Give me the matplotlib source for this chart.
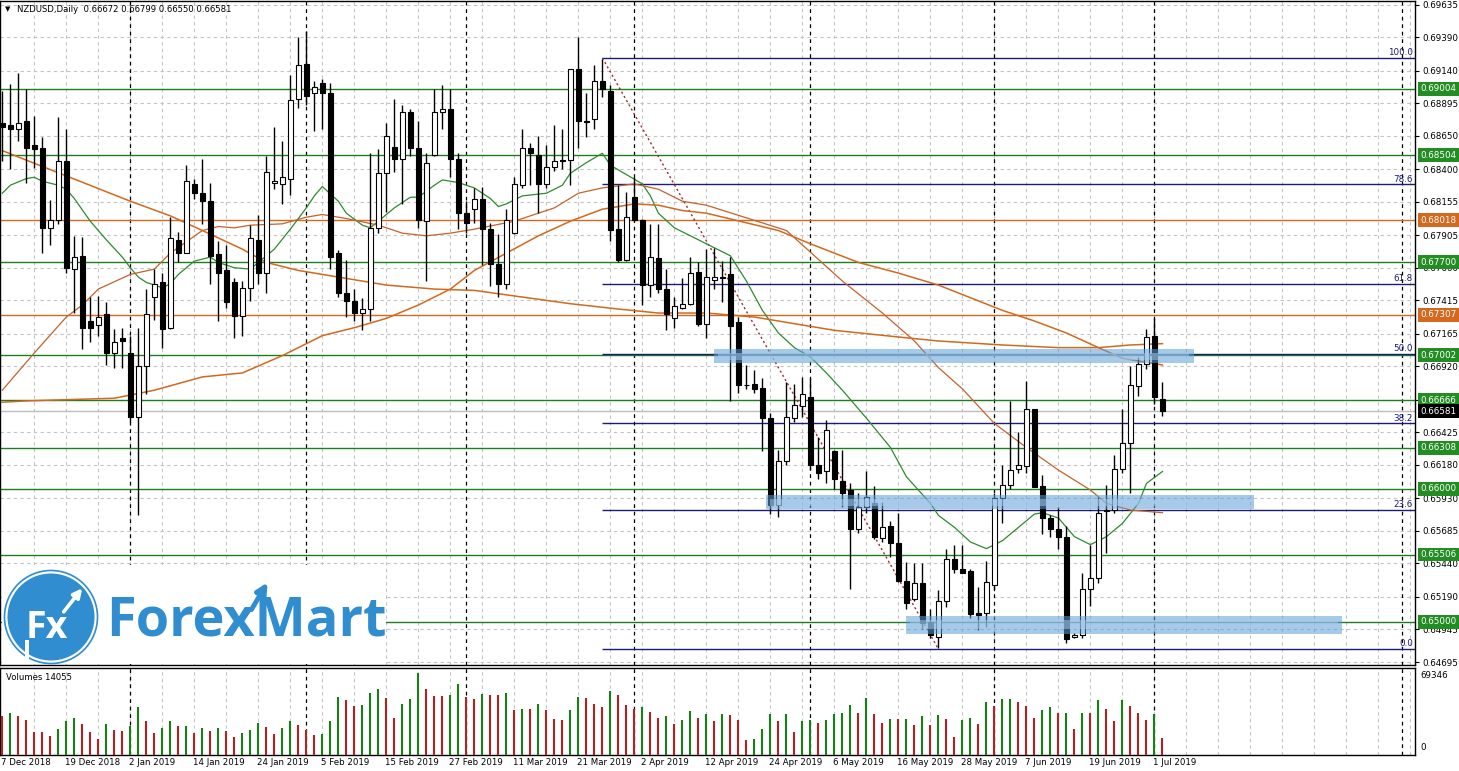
import matplotlib.pyplot as plt
from matplotlib.patches import Rectangle, Circle
from matplotlib.transforms import blended_transform_factory

# ---- NZDUSD daily candles, prices in pips (1 pip = 0.0001) ----
opens = [6875, 6873, 6870, 6876, 6858, 6856, 6796, 6802, 6846, 6765,
         6775, 6726, 6723, 6731, 6702, 6713, 6702, 6654, 6692, 6744,
         6755, 6721, 6787, 6777, 6829, 6822, 6816, 6776, 6764, 6755,
         6730, 6751, 6787, 6762, 6830, 6829, 6833, 6893, 6919, 6897,
         6905, 6897, 6777, 6747, 6741, 6732, 6735, 6796, 6837, 6857,
         6848, 6883, 6856, 6801, 6851, 6883, 6885, 6848, 6807, 6810,
         6818, 6795, 6769, 6754, 6792, 6828, 6856, 6851, 6829, 6842,
         6847, 6847, 6915, 6876, 6878, 6906, 6899, 6795, 6772, 6819,
         6802, 6753, 6773, 6750, 6728, 6736, 6739, 6763, 6724, 6757,
         6759, 6761, 6725, 6678, 6679, 6676, 6653, 6588, 6621, 6653,
         6662, 6669, 6618, 6613, 6628, 6606, 6599, 6570, 6586, 6589,
         6563, 6572, 6559, 6531, 6517, 6529, 6500, 6489, 6516, 6547,
         6540, 6538, 6507, 6507, 6528, 6593, 6603, 6615, 6617, 6660,
         6602, 6578, 6570, 6564, 6489, 6490, 6525, 6533, 6583, 6584,
         6615, 6634, 6677, 6694, 6715, 6667.2]
highs = [6899, 6904, 6912, 6900, 6880, 6864, 6817, 6879, 6870, 6790,
         6789, 6744, 6745, 6740, 6720, 6721, 6715, 6721, 6750, 6765,
         6762, 6804, 6793, 6843, 6833, 6848, 6830, 6786, 6783, 6758,
         6756, 6798, 6806, 6850, 6872, 6861, 6911, 6939, 6944, 6906,
         6908, 6905, 6779, 6772, 6750, 6743, 6852, 6855, 6875, 6893,
         6888, 6885, 6876, 6852, 6900, 6903, 6900, 6852, 6816, 6826,
         6827, 6800, 6791, 6810, 6834, 6870, 6860, 6865, 6858, 6873,
         6870, 6915, 6939, 6897, 6918, 6923, 6903, 6828, 6823, 6834,
         6803, 6799, 6799, 6765, 6744, 6758, 6774, 6770, 6780, 6781,
         6771, 6774, 6729, 6693, 6689, 6683, 6657, 6629, 6680, 6679,
         6684, 6683, 6639, 6652, 6629, 6629, 6604, 6597, 6613, 6602,
         6590, 6576, 6582, 6545, 6544, 6544, 6510, 6524, 6555, 6558,
         6558, 6540, 6526, 6546, 6597, 6618, 6666, 6643, 6681, 6660,
         6610, 6580, 6586, 6572, 6492, 6537, 6558, 6594, 6603, 6625,
         6660, 6692, 6699, 6720, 6728, 6679.9]
lows = [6846, 6840, 6861, 6830, 6841, 6777, 6783, 6799, 6762, 6732,
        6705, 6710, 6715, 6693, 6691, 6691, 6650, 6580, 6671, 6727,
        6706, 6720, 6770, 6777, 6818, 6799, 6754, 6726, 6736, 6713,
        6715, 6741, 6754, 6747, 6825, 6814, 6821, 6886, 6888, 6869,
        6870, 6765, 6744, 6729, 6726, 6719, 6726, 6792, 6808, 6838,
        6814, 6850, 6796, 6756, 6850, 6870, 6834, 6795, 6792, 6800,
        6768, 6752, 6744, 6750, 6791, 6826, 6828, 6807, 6826, 6839,
        6840, 6828, 6856, 6864, 6870, 6894, 6786, 6770, 6771, 6801,
        6738, 6744, 6747, 6719, 6721, 6735, 6738, 6722, 6713, 6750,
        6740, 6666, 6672, 6675, 6672, 6628, 6581, 6579, 6618, 6650,
        6654, 6614, 6607, 6604, 6600, 6586, 6525, 6567, 6582, 6562,
        6560, 6549, 6530, 6510, 6516, 6495, 6488, 6480, 6511, 6537,
        6537, 6503, 6494, 6496, 6524, 6574, 6600, 6612, 6612, 6601,
        6566, 6564, 6555, 6484, 6488, 6488, 6512, 6529, 6552, 6582,
        6612, 6597, 6670, 6690, 6664, 6655.0]
closes = [6872, 6870, 6875, 6856, 6855, 6796, 6802, 6846, 6766, 6774,
          6721, 6721, 6729, 6702, 6710, 6711, 6654, 6692, 6731, 6754,
          6720, 6788, 6777, 6831, 6822, 6816, 6775, 6762, 6740, 6730,
          6751, 6788, 6762, 6838, 6831, 6834, 6892, 6918, 6895, 6902,
          6897, 6774, 6747, 6741, 6732, 6735, 6796, 6837, 6865, 6848,
          6883, 6856, 6802, 6845, 6883, 6885, 6848, 6807, 6800, 6818,
          6795, 6769, 6754, 6802, 6829, 6856, 6852, 6829, 6842, 6846,
          6846, 6915, 6876, 6875.5, 6906, 6900, 6794, 6772, 6804, 6802,
          6753, 6774, 6750, 6731, 6737, 6739, 6762, 6724, 6759, 6759,
          6758.5, 6722, 6678, 6678.3, 6675, 6653, 6588, 6621, 6654, 6663,
          6671, 6618, 6612, 6644, 6607, 6597, 6570, 6586, 6594, 6564,
          6571, 6559, 6531, 6514, 6529, 6499, 6490, 6516, 6547, 6540,
          6537, 6506, 6505, 6530, 6593, 6603, 6614, 6618, 6660, 6601,
          6578, 6570, 6564, 6487, 6490, 6525, 6533, 6582, 6584, 6615,
          6634, 6678, 6694, 6714, 6669, 6658.1]
volumes = [32900, 36000, 32900, 29500, 19700, 19700, 16000, 22480, 28943, 31753,
           26133, 19670, 13207, 26133, 21075, 20513, 24447, 40464, 28662, 18827,
           23323, 28943, 24447, 25009, 19108, 23323, 20232, 22761, 20232, 14893,
           18827, 21075, 27257, 23604, 17703, 22761, 28943, 25571, 21075, 17141,
           18265, 28662, 49175, 46365, 41307, 42150, 53109, 56200, 48613, 31753,
           42993, 47770, 69346, 56200, 50580, 50580, 51423, 60415, 49737, 47208,
           51985, 50861, 50861, 52828, 38497, 39340, 39059, 43555, 38497, 30910,
           29505, 37935, 49737, 48613, 42993, 40745, 54795, 50861, 42150, 39340,
           40464, 36530, 31472, 32877, 26133, 30067, 37092, 31472, 34563, 28662,
           34563, 33720, 29505, 12645, 13488, 21918, 35125, 28943, 34563, 19670,
           28943, 29505, 27257, 29505, 34563, 35968, 42150, 35968, 48613, 35125,
           27257, 30910, 30348, 30629, 25290, 32877, 25290, 33720, 30910, 14893,
           30067, 31753, 26133, 44960, 41307, 47208, 47770, 44960, 41307, 31753,
           37935, 40745, 35687, 35968, 22480, 35687, 35687, 46365, 39340, 28662,
           46365, 41307, 35968, 30067, 34563, 14055]

date_labels = ["7 Dec 2018", "19 Dec 2018", "2 Jan 2019", "14 Jan 2019", "24 Jan 2019",
               "5 Feb 2019", "15 Feb 2019", "27 Feb 2019", "11 Mar 2019", "21 Mar 2019",
               "2 Apr 2019", "12 Apr 2019", "24 Apr 2019", "6 May 2019", "16 May 2019",
               "28 May 2019", "7 Jun 2019", "19 Jun 2019", "1 Jul 2019"]
price_ticks = [0.69635, 0.69390, 0.69140, 0.68895, 0.68650, 0.68400, 0.68155,
               0.67905, 0.67660, 0.67415, 0.67165, 0.66920, 0.66670, 0.66425,
               0.66180, 0.65930, 0.65685, 0.65440, 0.65190, 0.64945, 0.64695]
green_levels = [0.69004, 0.68504, 0.67700, 0.67002, 0.66666, 0.66308,
                0.66000, 0.65506, 0.65000]
orange_levels = [0.68018, 0.67307]
bid = 0.66581
separators = [16, 38, 58, 79, 101, 124, 144, 175]

fib_high, fib_low = 0.69236, 0.64796
fib_start, fib_end = 75, 117
fib_ratios = [0.0, 23.6, 38.2, 50.0, 61.8, 78.6, 100.0]

# hand-drawn blue zones: bar from, bar to, centre price, thickness
zones = [(88.9, 148.9, 0.66996, 0.00105),
         (95.4, 156.4, 0.65900, 0.00105),
         (112.9, 167.5, 0.64980, 0.00135)]

# moving averages (bar, pips)
ma_fast_x = [0, 1, 3, 4, 5, 7, 8, 9, 11, 13, 15, 16, 17, 18, 20, 21, 22, 24, 26, 27,
             29, 31, 32, 34, 36, 38, 39, 40, 42, 43, 45, 46, 47, 49, 51, 52, 54, 55,
             57, 59, 61, 62, 63, 65, 68, 70, 71, 73, 75, 76, 78, 80, 81, 82, 84, 86,
             88, 89, 91, 93, 95, 97, 99, 101, 103, 105, 108, 111, 113, 116, 117, 119,
             121, 123, 125, 127, 129, 130, 132, 134, 136, 138, 140, 142, 143, 145]
ma_fast_y = [6822, 6828, 6833, 6834, 6831, 6828, 6825, 6818, 6801, 6787, 6774, 6766,
             6759, 6755, 6751, 6754, 6761, 6771, 6774, 6770, 6766, 6765, 6770, 6780,
             6795, 6811, 6820, 6827, 6816, 6807, 6798, 6796, 6801, 6811, 6819, 6819,
             6828, 6832, 6830, 6826, 6818, 6812, 6814, 6820, 6822, 6828, 6837, 6845,
             6852, 6843, 6836, 6829, 6820, 6807, 6796, 6790, 6784, 6781, 6775, 6756,
             6734, 6717, 6706, 6699, 6687, 6674, 6653, 6631, 6609, 6589, 6580, 6571,
             6560, 6555, 6561, 6571, 6581, 6582, 6578, 6564, 6558, 6564, 6574, 6589,
             6604, 6613]
ma_mid_x = [0, 4, 8, 10, 12, 16, 19, 21, 25, 27, 29, 31, 35, 38, 40, 43, 47, 50, 53,
            56, 59, 64, 69, 72, 75, 79, 82, 85, 88, 98, 105, 110, 114, 117, 120, 124,
            128, 132, 136, 138, 141, 145]
ma_mid_y = [6674, 6702, 6729, 6738, 6750, 6761, 6765, 6777, 6794, 6797, 6796, 6798,
            6799, 6804, 6806, 6803, 6798, 6792, 6790, 6792, 6795, 6801, 6811, 6822,
            6826, 6829, 6825, 6816, 6813, 6794, 6756, 6732, 6711, 6691, 6675, 6649,
            6631, 6614, 6599, 6589, 6584, 6582]
ma_slow_x = [0, 3, 14, 19, 25, 30, 35, 40, 44, 48, 52, 56, 59, 63, 67, 71, 75, 79, 82,
             85, 88, 97, 101, 107, 112, 117, 125, 129, 133, 137, 140, 145]
ma_slow_y = [6665, 6666, 6668, 6674, 6684, 6687, 6700, 6715, 6721, 6728, 6738, 6750,
             6764, 6777, 6790, 6801, 6810, 6814, 6813, 6809, 6807, 6794, 6784, 6770,
             6762, 6753, 6734, 6726, 6717, 6706, 6698, 6693]
ma_long_x = [0, 8, 16, 21, 25, 30, 33, 37, 43, 48, 54, 59, 65, 71, 77, 82, 88, 94, 104,
             112, 117, 125, 132, 137, 141, 145]
ma_long_y = [6854, 6835, 6816, 6805, 6794, 6780, 6770, 6764, 6758, 6753, 6750, 6749,
             6744, 6739, 6735, 6732, 6732, 6729, 6719, 6714, 6711, 6708, 6706, 6706,
             6708, 6709]

W, H = 1459, 771
GREEN = "#1f7d1f"
ORANGE = "#d2691e"
NAVY = "#1c1c78"
GRID = "#c4c4c4"
FONT = "DejaVu Sans"

pip = 1e-4
n = len(opens)
xs = list(range(n))
o = [v * pip for v in opens]
h = [v * pip for v in highs]
l = [v * pip for v in lows]
c = [v * pip for v in closes]

fig = plt.figure(figsize=(W / 100, H / 100), dpi=100)
fig.patch.set_facecolor("white")

x_left, x_right = -0.25, 176.6
ax = fig.add_axes([0.3 / W, 1 - 665 / H, 1415 / W, 664 / H])
vax = fig.add_axes([0.3 / W, 1 - 755 / H, 1415 / W, 87 / H])

for a in (ax, vax):
    a.set_xlim(x_left, x_right)
    for s in a.spines.values():
        s.set_color("black")
        s.set_linewidth(1.0)
    a.set_xticks([])
    # vertical grid every 4 bars
    for g in range(4, 177, 4):
        a.axvline(g, color=GRID, lw=0.8, ls=(0, (3, 3)), zorder=0.5)
    for sx in separators:
        a.axvline(sx, color="black", lw=0.9, ls=(0, (3, 3)), zorder=0.8)

ax.set_ylim(0.64676, 0.69664)
ax.yaxis.tick_right()
ax.set_yticks(price_ticks)
ax.set_yticklabels([f"{t:.5f}" for t in price_ticks], fontsize=6.3, family=FONT)
ax.tick_params(axis="y", length=3, pad=2, colors="black")
for t in price_ticks:
    ax.axhline(t, color=GRID, lw=0.8, ls=(0, (3, 3)), zorder=0.5)

# horizontal levels
for lv in green_levels:
    ax.axhline(lv, color=GREEN, lw=1.0, zorder=1)
for lv in orange_levels:
    ax.axhline(lv, color=ORANGE, lw=1.0, zorder=1)
ax.axhline(bid, color="#bdbdbd", lw=1.0, zorder=1)

# fibonacci retracement
rng = fib_high - fib_low
for r in fib_ratios:
    lv = fib_low + rng * r / 100
    ax.hlines(lv, fib_start, x_right, color=NAVY, lw=1.0, zorder=1.2)
    ax.text(x_right - 0.3, lv + 0.00004, f"{r:.1f}", ha="right", va="bottom",
            color=NAVY, fontsize=6.3, family=FONT, zorder=5)
ax.plot([fib_start, fib_end], [fib_high, fib_low], color="#a0282d", lw=1.0,
        ls=(0, (1.5, 2)), zorder=1.3)

# brush zones
for x0, x1, cen, th in zones:
    ax.add_patch(Rectangle((x0, cen - th / 2), x1 - x0, th, fc="#5d9fd8",
                           ec="none", alpha=0.55, zorder=4))
    ax.add_patch(Rectangle((x0 + 0.6, cen - th / 4), x1 - x0 - 1.2, th / 2,
                           fc="#a9cbeb", ec="none", alpha=0.5, zorder=4))

# moving averages
ax.plot(ma_fast_x, [v * pip for v in ma_fast_y], color="#2e8b2e", lw=0.9, zorder=2)
ax.plot(ma_mid_x, [v * pip for v in ma_mid_y], color="#c4622d", lw=0.9, zorder=2)
ax.plot(ma_slow_x, [v * pip for v in ma_slow_y], color=ORANGE, lw=1.1, zorder=2)
ax.plot(ma_long_x, [v * pip for v in ma_long_y], color=ORANGE, lw=1.1, zorder=2)

# candles
ax.vlines(xs, l, h, color="black", lw=1.0, zorder=3)
bull = [ci >= oi for oi, ci in zip(o, c)]
bottoms = [min(oi, ci) for oi, ci in zip(o, c)]
heights = [abs(ci - oi) for oi, ci in zip(o, c)]
ax.bar(xs, heights, bottom=bottoms, width=0.6,
       color=["white" if b else "black" for b in bull],
       edgecolor="black", linewidth=0.8, zorder=3.5)

# right-hand price boxes
tr = blended_transform_factory(ax.transAxes, ax.transData)
box_x = 1 + 5.5 / 1415
for lv in green_levels:
    ax.text(box_x, lv, f"{lv:.5f}", transform=tr, ha="left", va="center",
            fontsize=6.3, family=FONT, color="white", clip_on=False, zorder=6,
            bbox=dict(boxstyle="square,pad=0.28", fc="#238c23", ec="none"))
for lv in orange_levels:
    ax.text(box_x, lv, f"{lv:.5f}", transform=tr, ha="left", va="center",
            fontsize=6.3, family=FONT, color="white", clip_on=False, zorder=6,
            bbox=dict(boxstyle="square,pad=0.28", fc=ORANGE, ec="none"))
ax.text(box_x, bid, f"{bid:.5f}", transform=tr, ha="left", va="center",
        fontsize=6.3, family=FONT, color="white", clip_on=False, zorder=6,
        bbox=dict(boxstyle="square,pad=0.28", fc="black", ec="none"))

# header
ax.text(17 / 1415, 1 - 8 / 664, "NZDUSD,Daily  0.66672 0.66799 0.66550 0.66581",
        transform=ax.transAxes, ha="left", va="center", fontsize=6.1, family=FONT,
        color="black", zorder=6)
ax.text(7 / 1415, 1 - 8 / 664, "\u25bc", transform=ax.transAxes, ha="center",
        va="center", fontsize=5, family=FONT, color="black", zorder=6)

# volumes
vcol = ["#b22222"]
for i in range(1, n):
    vcol.append("#168016" if volumes[i] > volumes[i - 1] else "#b22222")
vax.set_ylim(0, 74000)
vax.set_yticks([])
vax.vlines(xs, 0, volumes, colors=vcol, lw=1.5, zorder=3)
vax.text(6 / 1415, 1 - 9 / 87, f"Volumes {volumes[-1]}", transform=vax.transAxes,
         ha="left", va="center", fontsize=6.1, family=FONT, color="black")
vax.text(1 + 5 / 1415, 1 - 8 / 87, f"{max(volumes)}", transform=vax.transAxes,
         ha="left", va="center", fontsize=6.3, family=FONT, clip_on=False)
vax.text(1 + 5 / 1415, 7 / 87, "0", transform=vax.transAxes,
         ha="left", va="center", fontsize=6.3, family=FONT, clip_on=False)

vtr = blended_transform_factory(vax.transData, vax.transAxes)
for k, lab in enumerate(date_labels):
    vax.text(8 * k - 0.2, -0.03, lab, transform=vtr, ha="left", va="top",
             fontsize=6.2, family=FONT, clip_on=False)

# ForexMart logo overlay (pixel coordinates)
ov = fig.add_axes([0, 0, 1, 1], zorder=10)
ov.set_xlim(0, W)
ov.set_ylim(H, 0)
ov.axis("off")
BLUE = "#2f8dd0"
ov.add_patch(Rectangle((1.5, 565), 384, 99, fc="white", ec="none"))
ov.add_patch(Circle((51, 617), 46.5, fc="none", ec=BLUE, lw=1.2))
ov.add_patch(Circle((51, 617), 43.5, fc=BLUE, ec="none"))
ov.text(47, 628, "Fx", color="white", fontsize=27, fontweight="bold",
        family="Open Sans", ha="center", va="center")
ov.add_patch(Rectangle((24.5, 640), 4.5, 20, fc="white", ec="none"))
ov.annotate("", xy=(84, 586), xytext=(62, 614),
            arrowprops=dict(arrowstyle="-|>", color="white", lw=2.6, mutation_scale=13))
ov.text(106, 621, "ForexMart", color=BLUE, fontsize=39, fontweight="bold",
        family="Open Sans", ha="left", va="center")
ov.annotate("", xy=(269, 580), xytext=(250, 612),
            arrowprops=dict(arrowstyle="-|>", color=BLUE, lw=3.5, mutation_scale=16))

fig.savefig("out.png", dpi=100)
